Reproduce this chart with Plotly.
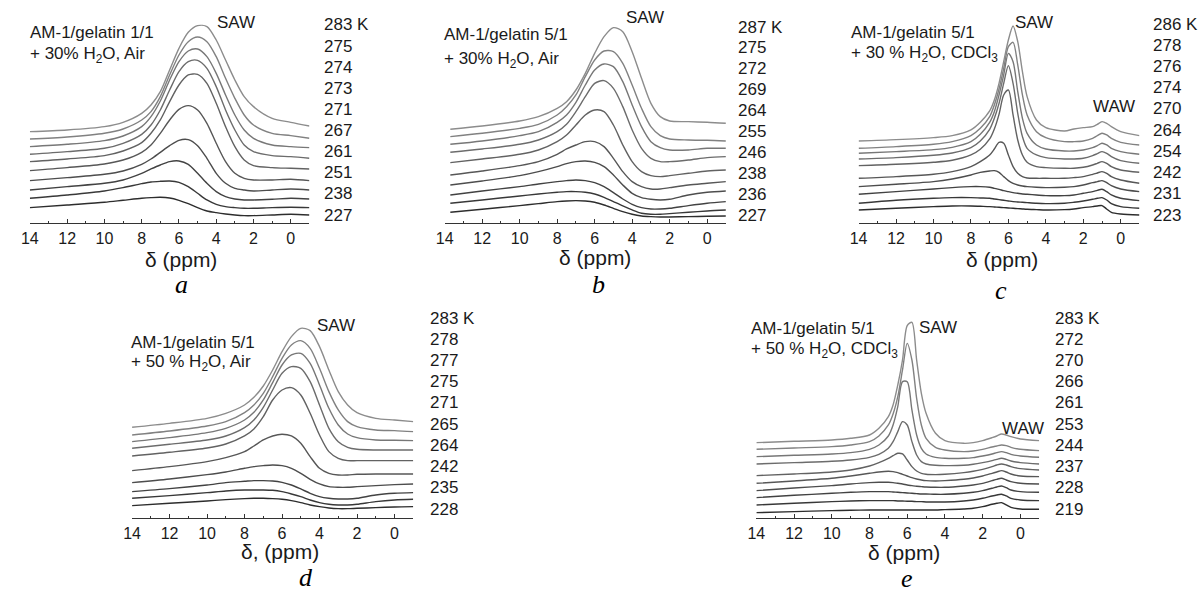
import plotly.graph_objects as go

W, H = 1200, 592

# ---------------- data (intensity in arbitrary units, stacked) ----------------
ppm_broad = [14, 12, 10, 9, 8, 7.5, 7, 6.5, 6, 5.5, 5, 4.5, 4, 3.5, 3, 2.5, 2, 1, 0, -1]
ppm_broad_b = [13.7, 12, 10, 9, 8, 7.5, 7, 6.5, 6, 5.5, 5, 4.5, 4, 3.5, 3, 2.5, 2, 1, 0, -1]
ppm_sharp = [14, 12, 10, 9, 8, 7.5, 7, 6.75, 6.5, 6.25, 6, 5.75, 5.5, 5.25, 5, 4.5, 4, 3,
             2.5, 2, 1.5, 1.25, 1, 0.75, 0.5, 0, -1]

temps_a = ["283 K", "275", "274", "273", "271", "267", "261", "251", "238", "227"]
temps_b = ["287 K", "275", "272", "269", "264", "255", "246", "238", "236", "227"]
temps_c = ["286 K", "278", "276", "274", "270", "264", "254", "242", "231", "223"]
temps_d = ["283 K", "278", "277", "275", "271", "265", "264", "242", "235", "228"]
temps_e = ["283 K", "272", "270", "266", "261", "253", "244", "237", "228", "219"]

spec_a = [
    [275, 280, 290, 303, 330, 355, 395, 460, 525, 573, 593, 590, 550, 490, 430, 380, 350, 315, 303, 292],
    [253, 259, 270, 283, 310, 335, 380, 445, 505, 545, 559, 545, 500, 435, 375, 325, 295, 270, 263, 255],
    [230, 237, 248, 262, 290, 320, 367, 430, 485, 517, 523, 500, 450, 385, 325, 280, 255, 235, 230, 227],
    [207, 215, 225, 240, 267, 295, 340, 400, 455, 485, 489, 465, 410, 340, 280, 235, 215, 203, 200, 195],
    [185, 193, 203, 217, 242, 270, 310, 365, 415, 445, 447, 420, 360, 290, 230, 190, 173, 167, 165, 163],
    [158, 167, 178, 190, 213, 235, 270, 310, 342, 353, 340, 300, 240, 185, 150, 135, 130, 130, 132, 128],
    [128, 137, 147, 157, 177, 193, 213, 233, 249, 251, 233, 195, 150, 120, 105, 100, 97, 100, 103, 100],
    [100, 110, 120, 130, 150, 163, 175, 185, 187, 177, 150, 120, 95, 80, 73, 70, 70, 72, 75, 73],
    [75, 85, 97, 107, 119, 124, 126, 127, 123, 110, 90, 70, 57, 50, 47, 45, 45, 47, 48, 47],
    [47, 55, 63, 69, 75, 77, 78, 76, 69, 59, 47, 37, 32, 28, 25, 23, 23, 25, 27, 25],
]

spec_b = [
    [282, 292, 307, 320, 345, 365, 400, 450, 510, 560, 587, 575, 515, 435, 360, 320, 307, 305, 303, 300],
    [260, 270, 285, 297, 325, 350, 385, 440, 490, 517, 515, 480, 415, 345, 290, 263, 253, 250, 249, 247],
    [237, 247, 263, 275, 303, 325, 363, 415, 460, 478, 470, 425, 355, 290, 245, 227, 220, 220, 225, 225],
    [213, 223, 237, 250, 275, 297, 335, 380, 420, 428, 405, 350, 280, 225, 195, 185, 185, 190, 197, 200],
    [182, 193, 207, 220, 245, 265, 295, 325, 340, 335, 295, 235, 185, 155, 143, 140, 143, 150, 157, 160],
    [145, 157, 173, 185, 207, 223, 235, 245, 245, 230, 195, 155, 125, 110, 103, 103, 107, 115, 120, 125],
    [115, 127, 143, 155, 170, 179, 185, 187, 183, 170, 145, 115, 90, 77, 72, 70, 72, 85, 93, 97],
    [85, 97, 110, 118, 125, 128, 130, 128, 122, 110, 92, 73, 57, 47, 43, 43, 45, 53, 60, 65],
    [60, 70, 82, 88, 93, 95, 95, 93, 88, 78, 65, 52, 40, 30, 27, 27, 29, 33, 37, 40],
    [33, 42, 53, 59, 65, 67, 68, 67, 63, 55, 45, 35, 27, 22, 20, 19, 19, 20, 21, 22],
]

spec_c = [
    [247, 251, 257, 263, 280, 303, 337, 370, 420, 485, 550, 592, 545, 455, 380, 310, 287, 277, 283, 287, 290, 297, 305, 300, 290, 275, 263],
    [225, 230, 237, 245, 263, 285, 320, 355, 403, 465, 530, 543, 475, 385, 325, 275, 257, 245, 245, 247, 255, 263, 270, 265, 255, 243, 235],
    [210, 215, 221, 228, 245, 267, 303, 335, 385, 445, 510, 485, 395, 315, 270, 235, 223, 217, 217, 220, 227, 233, 240, 235, 225, 215, 207],
    [193, 197, 204, 211, 227, 247, 282, 315, 360, 420, 473, 420, 330, 260, 225, 205, 197, 193, 193, 195, 203, 209, 215, 210, 200, 188, 180],
    [173, 177, 183, 189, 205, 222, 253, 283, 327, 385, 400, 325, 250, 205, 183, 170, 167, 165, 165, 168, 175, 180, 185, 180, 170, 160, 153],
    [135, 140, 147, 155, 170, 185, 205, 223, 243, 240, 205, 170, 150, 140, 136, 135, 135, 135, 137, 140, 147, 151, 155, 150, 140, 130, 120],
    [110, 117, 125, 133, 145, 153, 157, 158, 153, 140, 128, 120, 115, 112, 110, 108, 107, 108, 110, 115, 122, 125, 128, 122, 113, 103, 95],
    [87, 95, 103, 107, 110, 110, 108, 105, 102, 98, 95, 92, 90, 88, 87, 85, 83, 83, 85, 90, 95, 99, 102, 95, 85, 75, 68],
    [60, 69, 75, 77, 77, 76, 75, 73, 71, 69, 67, 65, 64, 63, 62, 60, 59, 60, 63, 67, 72, 75, 77, 70, 59, 50, 45],
    [40, 45, 50, 52, 52, 51, 50, 49, 48, 47, 46, 45, 44, 43, 42, 41, 40, 41, 43, 47, 50, 52, 53, 43, 33, 28, 25],
]

spec_d = [
    [273, 285, 300, 315, 340, 363, 397, 445, 500, 545, 570, 563, 515, 445, 380, 340, 317, 300, 295, 290],
    [250, 262, 277, 290, 317, 340, 375, 425, 480, 520, 533, 510, 450, 380, 325, 290, 275, 265, 263, 260],
    [230, 242, 257, 270, 295, 318, 355, 407, 460, 490, 495, 465, 400, 330, 280, 253, 242, 235, 234, 233],
    [210, 222, 235, 247, 272, 295, 333, 385, 435, 455, 450, 410, 340, 270, 230, 213, 207, 205, 205, 205],
    [187, 198, 211, 223, 247, 268, 305, 355, 385, 392, 370, 315, 250, 200, 180, 173, 173, 173, 173, 173],
    [143, 155, 170, 182, 200, 217, 235, 247, 252, 247, 225, 185, 150, 135, 130, 130, 132, 133, 133, 133],
    [107, 118, 131, 139, 150, 155, 158, 160, 158, 150, 135, 117, 103, 95, 93, 93, 95, 98, 101, 103],
    [80, 89, 100, 107, 111, 113, 113, 112, 108, 100, 88, 75, 65, 60, 58, 58, 60, 70, 75, 77],
    [60, 68, 77, 82, 85, 85, 85, 84, 80, 73, 65, 55, 47, 42, 40, 40, 42, 50, 55, 57],
    [38, 45, 52, 56, 59, 60, 60, 59, 57, 53, 47, 40, 35, 31, 29, 29, 30, 32, 34, 35],
]

spec_e = [
    [227, 231, 235, 240, 250, 270, 305, 340, 400, 475, 578, 588, 475, 375, 315, 255, 233, 225, 227, 233, 242, 247, 253, 250, 245, 238, 233],
    [207, 211, 215, 220, 230, 247, 280, 313, 365, 445, 525, 475, 360, 280, 240, 213, 205, 200, 202, 207, 214, 217, 220, 218, 213, 207, 203],
    [185, 189, 193, 197, 207, 220, 247, 280, 335, 410, 410, 325, 250, 210, 193, 183, 180, 180, 182, 187, 193, 197, 200, 197, 192, 187, 183],
    [163, 167, 171, 175, 183, 192, 210, 230, 260, 290, 280, 230, 190, 170, 163, 159, 158, 159, 162, 167, 173, 177, 180, 177, 172, 167, 163],
    [128, 133, 139, 145, 157, 167, 180, 188, 195, 193, 175, 155, 142, 135, 132, 131, 132, 137, 141, 147, 155, 160, 163, 160, 155, 149, 145],
    [105, 112, 120, 127, 135, 139, 141, 140, 137, 132, 127, 122, 118, 115, 113, 112, 113, 117, 121, 127, 135, 139, 143, 139, 133, 127, 125],
    [83, 91, 98, 103, 107, 108, 108, 107, 105, 103, 100, 98, 96, 95, 94, 93, 93, 97, 100, 105, 113, 117, 120, 115, 110, 105, 103],
    [62, 69, 75, 78, 80, 80, 80, 79, 78, 77, 76, 75, 74, 73, 73, 72, 72, 75, 78, 83, 90, 94, 97, 92, 85, 80, 78],
    [40, 45, 50, 52, 53, 53, 53, 53, 52, 52, 51, 51, 50, 50, 49, 49, 49, 52, 55, 60, 67, 70, 72, 67, 60, 55, 53],
    [17, 20, 23, 24, 25, 25, 25, 25, 25, 25, 25, 25, 25, 25, 25, 25, 26, 28, 30, 35, 42, 45, 47, 40, 33, 28, 27],
]

tick_vals = [14, 12, 10, 8, 6, 4, 2, 0]

# ---------------- layout helpers ----------------
FONT = "Liberation Sans, Arial, sans-serif"
SERIF = "Liberation Serif, Times New Roman, serif"
TXT = "#1a1a1a"


def fx(x):
    return x / W


def fy(y):
    return 1 - y / H


panels = [
    dict(ppm=ppm_broad, spec=spec_a, temps=temps_a, x=(21, 302.7), y=(15, 223.3),
         lx=315, ly=(25, 215), l1=(19, 33, "AM-1/gelatin 1/1"), l2=(19, 55, "+ 30% H<sub>2</sub>O, Air"),
         peaks=[(229, 22, "SAW")], title=(173, 259, "δ (ppm)"), letter=(174, 285, "a")),
    dict(ppm=ppm_broad_b, spec=spec_b, temps=temps_b, x=(439, 722.3), y=(15, 223.3),
         lx=732, ly=(27, 215), l1=(436, 35, "AM-1/gelatin 5/1"), l2=(436, 60, "+ 30% H<sub>2</sub>O, Air"),
         peaks=[(641, 18, "SAW")], title=(590, 258, "δ (ppm)"), letter=(594, 285, "b")),
    dict(ppm=ppm_sharp, spec=spec_c, temps=temps_c, x=(856, 1139), y=(15, 223.3),
         lx=1151, ly=(24, 215), l1=(846, 32, "AM-1/gelatin 5/1"), l2=(846, 54, "+ 30 % H<sub>2</sub>O, CDCl<sub>3</sub>"),
         peaks=[(1033, 22, "SAW"), (1113, 107, "WAW")], title=(1000, 259, "δ (ppm)"), letter=(999, 290, "c")),
    dict(ppm=ppm_broad, spec=spec_d, temps=temps_d, x=(124, 407.3), y=(310, 518.3),
         lx=422, ly=(318, 509), l1=(121, 342, "AM-1/gelatin 5/1"), l2=(121, 363, "+ 50 % H<sub>2</sub>O, Air"),
         peaks=[(329, 325, "SAW")], title=(273, 551, "δ, (ppm)"), letter=(299, 577, "d")),
    dict(ppm=ppm_sharp, spec=spec_e, temps=temps_e, x=(753, 1038), y=(310, 518.3),
         lx=1052, ly=(318, 509), l1=(746, 328, "AM-1/gelatin 5/1"), l2=(746, 350, "+ 50 % H<sub>2</sub>O, CDCl<sub>3</sub>"),
         peaks=[(936, 327, "SAW"), (1022, 428, "WAW")], title=(902, 552, "δ (ppm)"), letter=(905, 578, "e")),
]


def line_color(i, n):
    # top curves lighter grey, bottom curves darker
    t = i / (n - 1)
    g = int(round(140 - t * (140 - 45)))
    return f"rgb({g},{g},{g})"


fig = go.Figure()
annotations = []
layout_axes = {}

for k, p in enumerate(panels, start=1):
    xa = "x" if k == 1 else f"x{k}"
    ya = "y" if k == 1 else f"y{k}"
    n = len(p["spec"])
    for i in reversed(range(n)):
        fig.add_trace(go.Scatter(
            x=p["ppm"], y=p["spec"][i], mode="lines",
            line=dict(color=line_color(i, n), width=1.4, shape="spline", smoothing=0.8),
            xaxis=xa, yaxis=ya, showlegend=False, hoverinfo="skip",
        ))
    x0, x1 = p["x"]
    yt, yb = p["y"]
    layout_axes["xaxis" if k == 1 else f"xaxis{k}"] = dict(
        domain=[fx(x0), fx(x1)], range=[14, -1], anchor=ya,
        tickmode="array", tickvals=tick_vals,
        ticks="inside", ticklen=4, tickwidth=1, tickcolor="#333",
        minor=dict(tickmode="linear", tick0=1, dtick=2, ticks="inside", ticklen=2, tickcolor="#333"),
        showline=True, linecolor="#333", linewidth=1, mirror=False,
        showgrid=False, zeroline=False, fixedrange=True,
        tickfont=dict(family=FONT, size=16, color=TXT), ticklabelstandoff=0,
    )
    layout_axes["yaxis" if k == 1 else f"yaxis{k}"] = dict(
        domain=[fy(yb), fy(yt)], range=[0, 625], anchor=xa,
        visible=False, showgrid=False, zeroline=False, fixedrange=True,
    )
    ly0, ly1 = p["ly"]
    for i, t in enumerate(p["temps"]):
        yy = ly0 + (ly1 - ly0) * i / (n - 1)
        annotations.append(dict(x=fx(p["lx"]), y=fy(yy), xref="paper", yref="paper", text=t,
                                showarrow=False, xanchor="left", yanchor="middle",
                                font=dict(family=FONT, size=17, color=TXT)))
    for (tx, ty, tt) in (p["l1"], p["l2"]):
        annotations.append(dict(x=fx(tx), y=fy(ty), xref="paper", yref="paper", text=tt,
                                showarrow=False, xanchor="left", yanchor="middle",
                                font=dict(family=FONT, size=17, color=TXT)))
    for (tx, ty, tt) in p["peaks"]:
        annotations.append(dict(x=fx(tx), y=fy(ty), xref="paper", yref="paper", text=tt,
                                showarrow=False, xanchor="center", yanchor="middle",
                                font=dict(family=FONT, size=17, color=TXT)))
    tx, ty, tt = p["title"]
    annotations.append(dict(x=fx(tx), y=fy(ty), xref="paper", yref="paper", text=tt,
                            showarrow=False, xanchor="center", yanchor="middle",
                            font=dict(family=FONT, size=21, color=TXT)))
    tx, ty, tt = p["letter"]
    annotations.append(dict(x=fx(tx), y=fy(ty), xref="paper", yref="paper", text=f"<i>{tt}</i>",
                            showarrow=False, xanchor="center", yanchor="middle",
                            font=dict(family=SERIF, size=26, color="#000")))

fig.update_layout(
    width=W, height=H, margin=dict(l=0, r=0, t=0, b=0),
    paper_bgcolor="white", plot_bgcolor="white",
    annotations=annotations, showlegend=False,
    **layout_axes,
)

fig.write_html("out.html", config=dict(displayModeBar=False),
               post_script="document.body.style.margin='0';document.body.style.overflow='hidden';")
